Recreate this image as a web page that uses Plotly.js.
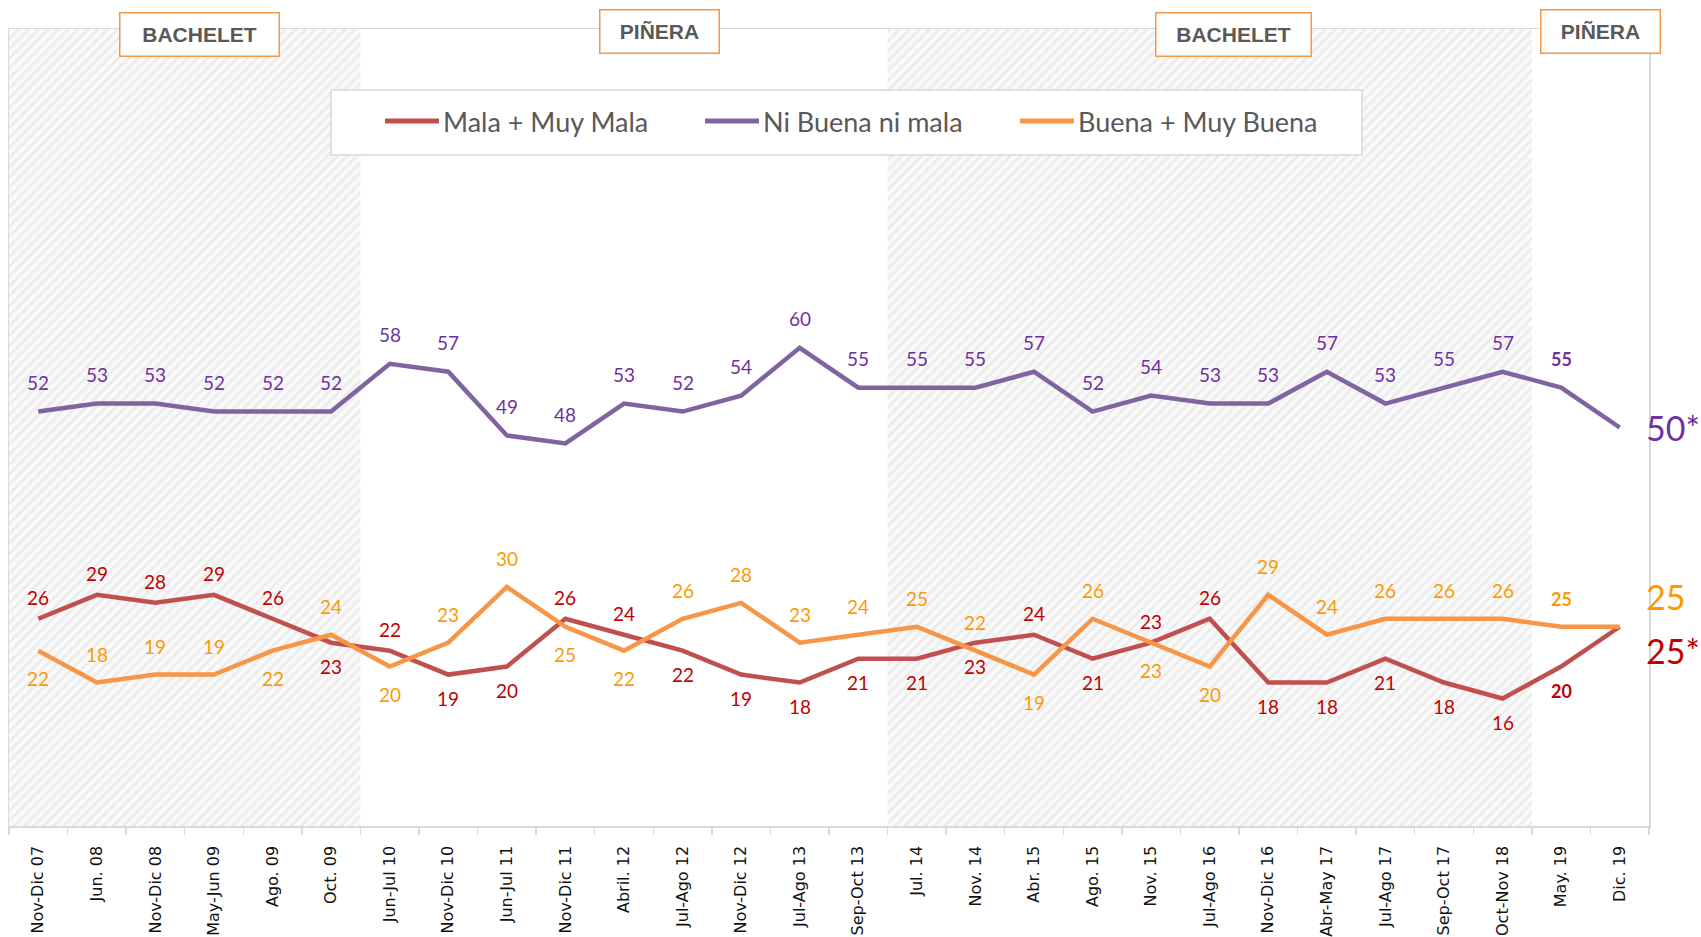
<!DOCTYPE html>
<html><head><meta charset="utf-8">
<script src="https://cdn.plot.ly/plotly-3.0.1.min.js"></script>
<style>body{margin:0;background:#fff}#chart{width:1701px;height:937px}</style>
</head><body><div id="chart"></div>
<script>
// ---------- DATA ----------
const categories = ['Nov-Dic 07','Jun. 08','Nov-Dic 08','May-Jun 09','Ago. 09','Oct. 09','Jun-Jul 10','Nov-Dic 10','Jun-Jul 11','Nov-Dic 11','Abril. 12','Jul-Ago 12','Nov-Dic 12','Jul-Ago 13','Sep-Oct 13','Jul. 14','Nov. 14','Abr. 15','Ago. 15','Nov. 15','Jul-Ago 16','Nov-Dic 16','Abr-May 17','Jul-Ago 17','Sep-Oct 17','Oct-Nov 18','May. 19','Dic. 19'];
const seriesNames = ['Mala + Muy Mala','Ni Buena ni mala','Buena + Muy Buena'];
const malaValues  = [26,29,28,29,26,23,22,19,20,26,24,22,19,18,21,21,23,24,21,23,26,18,18,21,18,16,20,25];
const niValues    = [52,53,53,52,52,52,58,57,49,48,53,52,54,60,55,55,55,57,52,54,53,53,57,53,55,57,55,50];
const buenaValues = [22,18,19,19,22,24,20,23,30,25,22,26,28,23,24,25,22,19,26,23,20,29,24,26,26,26,25,25];
const endSuffix   = ['*','*',''];
const govNames  = ['BACHELET','PIÑERA','BACHELET','PIÑERA'];
const govStarts = ['Nov-Dic 07','Jun-Jul 10','Jul. 14','May. 19'];

// ---------- STYLE ----------
const W = 1701, H = 937, ML = 9, MR = 52, MT = 29, MB = 111;
const PW = W-ML-MR, PH = H-MT-MB;
const px2x = p => (p-ML)/PW;          // pixel -> paper x
const px2y = p => (H-MB-p)/PH;        // pixel -> paper y
const lineColors  = ['#c0504d','#8064a2','#f79646'];
const labelColors = ['#c00000','#7030a0','#ff9900'];
// label placement: 1 above, -1 below
const malaPos  = [1,1,1,1,1,-1,1,-1,-1,1,1,-1,-1,-1,-1,-1,-1,1,-1,1,1,-1,-1,-1,-1,-1,-1];
const niPos    = niValues.slice(0,-1).map(()=>1);
const buenaPos = [-1,1,1,1,-1,1,-1,1,1,-1,-1,1,1,1,1,1,1,-1,1,-1,-1,1,1,1,1,1,1];
const offAbove = [21,29,28], offBelow = [24,29,28];
const endShift = [-24, 0, 30];
const govBoxX = [2.76, 10.6, 20.4, 26.68];
const govBoxYpx = [34, 32, 34, 32];
const govBoxW = [152, 112, 148, 112];
const legendItemPx = [385, 705, 1020];
const legendYpx = 121;

const N = categories.length;
const idx = categories.map((_,i)=>i);
const allValues = [malaValues, niValues, buenaValues];
const allPos = [malaPos, niPos, buenaPos];

const traces = [];
// government shading (Bachelet periods)
const startIdx = govStarts.map(s=>categories.indexOf(s));
const shX=[], shW=[], shY=[];
govNames.forEach((g,k)=>{
  const s = startIdx[k], e = k+1<startIdx.length ? startIdx[k+1] : N;
  if (g==='BACHELET'){ shX.push((s+e-1)/2); shW.push(e-s); shY.push(100); }
});
traces.push({type:'bar', x:shX, y:shY, width:shW, base:0, showlegend:false, hoverinfo:'skip',
  marker:{color:'#f9f9f9', line:{width:0},
    pattern:{shape:'/', fgcolor:'#ebebeb', bgcolor:'#f9f9f9', size:7, solidity:0.35}}});

allValues.forEach((vals,s)=>{
  traces.push({type:'scatter', mode:'lines', x:idx, y:vals, name:seriesNames[s], showlegend:false,
    line:{color:lineColors[s], width:4.5}, hoverinfo:'skip'});
});

const annotations = [];
const shapes = [];
allValues.forEach((vals,s)=>{
  for (let i=0;i<N-1;i++){
    const p = allPos[s][i];
    const bold = (i===N-2);
    annotations.push({x:i, y:vals[i], xref:'x', yref:'y', showarrow:false,
      text: bold ? '<b>'+vals[i]+'</b>' : String(vals[i]),
      yshift: p>0 ? offAbove[s] : -offBelow[s],
      font:{family:'Lato, Carlito, sans-serif', size:bold?18:19, color:labelColors[s]}});
  }
  annotations.push({x:N-1, y:vals[N-1], xref:'x', yref:'y', showarrow:false,
    text:String(vals[N-1])+endSuffix[s], xanchor:'left', xshift:24, yshift:endShift[s],
    font:{family:'Lato, Carlito, sans-serif', size:34, color:labelColors[s]}});
});
govNames.forEach((g,k)=>{
  annotations.push({x:govBoxX[k], y:px2y(govBoxYpx[k]), xref:'x', yref:'paper', yanchor:'middle', showarrow:false,
    text:'<b>'+g+'</b>', width:govBoxW[k], height:36, borderpad:3,
    bordercolor:'#f79646', borderwidth:1.5, bgcolor:'#ffffff',
    font:{family:'Liberation Sans, Arial, sans-serif', size:21, color:'#595959'}});
});

// legend box + entries
shapes.push({type:'rect', xref:'paper', yref:'paper', x0:px2x(331), x1:px2x(1362), y0:px2y(155), y1:px2y(90),
  line:{color:'#d9d9d9', width:1.5}, fillcolor:'#ffffff', layer:'above'});
seriesNames.forEach((nm,s)=>{
  const x0 = legendItemPx[s];
  shapes.push({type:'line', xref:'paper', yref:'paper', x0:px2x(x0), x1:px2x(x0+54), y0:px2y(legendYpx), y1:px2y(legendYpx),
    line:{color:lineColors[s], width:5}, layer:'above'});
  annotations.push({xref:'paper', yref:'paper', x:px2x(x0+56), y:px2y(legendYpx), xanchor:'left', yanchor:'middle',
    showarrow:false, text:nm, font:{family:'Lato, Carlito, sans-serif', size:27, color:'#595959'}});
});

const boundaries = [];
for (let i=0;i<=N;i++) boundaries.push(i-0.5);

const layout = {
  width:W, height:H,
  margin:{l:ML, r:MR, t:MT, b:MB},
  paper_bgcolor:'#ffffff', plot_bgcolor:'#ffffff',
  showlegend:false,
  xaxis:{range:[-0.5,N-0.5], tickmode:'array', tickvals:idx, ticktext:categories,
    tickangle:-90, ticks:'outside', ticklen:12, tickcolor:'rgba(0,0,0,0)',
    tickfont:{family:'DejaVu Sans, sans-serif', size:16, color:'#111111'},
    showgrid:false, zeroline:false, showline:true, mirror:true, linecolor:'#d9d9d9', linewidth:1.5,
    minor:{tickmode:'array', tickvals:boundaries, ticks:'outside', ticklen:7, tickcolor:'#d9d9d9', tickwidth:1.5, showgrid:false}},
  yaxis:{range:[0,100], showticklabels:false, showgrid:false, zeroline:false,
    showline:true, mirror:true, linecolor:'#d9d9d9', linewidth:1.5, ticks:''},
  shapes:shapes,
  annotations:annotations,
  hovermode:false
};
Plotly.newPlot('chart', traces, layout, {displayModeBar:false, staticPlot:true});
</script></body></html>
